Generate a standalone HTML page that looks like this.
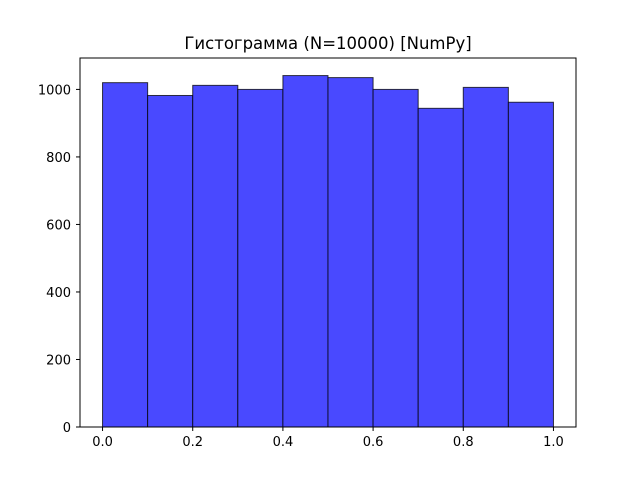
<!DOCTYPE html>
<html><head><meta charset="utf-8"><style>
body{margin:0;background:#fff}
svg text{font-family:"DejaVu Sans","Liberation Sans",sans-serif}
</style></head><body>
<svg id="chart" width="640" height="480" xmlns="http://www.w3.org/2000/svg">
<rect width="640" height="480" fill="#fff"/>
<text x="328" y="49" font-size="16.5" text-anchor="middle">Гистограмма (N=10000) [NumPy]</text>
<g id="bars"></g>
<rect x="80" y="58" width="496" height="369" fill="none" stroke="#000" stroke-width="1"/>
<g id="xticks"></g><g id="yticks"></g>
</svg>
<script>
const binEdges=[0,0.1,0.2,0.3,0.4,0.5,0.6,0.7,0.8,0.9,1.0];
const counts=[1020,982,1012,1000,1041,1035,1000,944,1006,962];
const xTicks=[0,0.2,0.4,0.6,0.8,1.0];
const yTicks=[0,200,400,600,800,1000];
const L=80,R=576,T=58,B=427;
const xmin=-0.05,xmax=1.05,ymin=0,ymax=Math.max(...counts)*1.05;
const xs=v=>L+(v-xmin)/(xmax-xmin)*(R-L);
const ys=v=>B-(v-ymin)/(ymax-ymin)*(B-T);
const NS="http://www.w3.org/2000/svg";
const bars=document.getElementById('bars');
counts.forEach((c,i)=>{
 const r=document.createElementNS(NS,'rect');
 r.setAttribute('x',xs(binEdges[i]));r.setAttribute('y',ys(c));
 r.setAttribute('width',xs(binEdges[i+1])-xs(binEdges[i]));r.setAttribute('height',ys(0)-ys(c));
 r.setAttribute('fill','#4949ff');r.setAttribute('stroke','rgba(0,0,0,0.75)');r.setAttribute('stroke-width','1');
 
 
 bars.appendChild(r);
});
const xg=document.getElementById('xticks');
xTicks.forEach(v=>{
 const x=xs(v);
 const l=document.createElementNS(NS,'line');
 l.setAttribute('x1',x);l.setAttribute('x2',x);l.setAttribute('y1',B);l.setAttribute('y2',B+4);l.setAttribute('stroke','#000');
 
 
 xg.appendChild(l);
 const t=document.createElementNS(NS,'text');
 t.setAttribute('x',x);t.setAttribute('y',B+19);t.setAttribute('font-size','13');t.setAttribute('text-anchor','middle');
 t.textContent=v.toFixed(1);
 
 
 xg.appendChild(t);
});
const yg=document.getElementById('yticks');
yTicks.forEach(v=>{
 const y=ys(v);
 const l=document.createElementNS(NS,'line');
 l.setAttribute('x1',L-4);l.setAttribute('x2',L);l.setAttribute('y1',y);l.setAttribute('y2',y);l.setAttribute('stroke','#000');
 
 
 yg.appendChild(l);
 const t=document.createElementNS(NS,'text');
 t.setAttribute('x',L-9);t.setAttribute('y',y+5);t.setAttribute('font-size','13');t.setAttribute('text-anchor','end');
 t.textContent=v;
 
 
 yg.appendChild(t);
});
</script>
</body></html>
